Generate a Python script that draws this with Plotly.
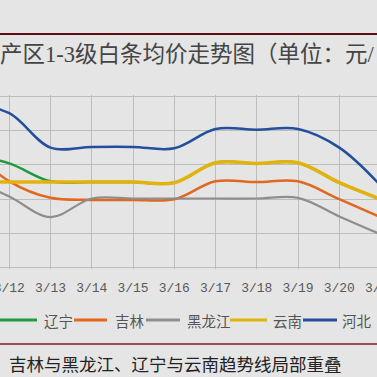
import plotly.graph_objects as go

# ---- data ----
dates = ["3/11", "3/12", "3/13", "3/14", "3/15", "3/16", "3/17", "3/18", "3/19", "3/20", "3/21"]
series_names = ["辽宁", "吉林", "黑龙江", "云南", "河北"]
liaoning = [16.65, 16.52, 16.26, 16.25, 16.25, 16.24, 16.53, 16.52, 16.53, 16.24, 16.00]
jilin = [16.75, 16.26, 16.02, 15.99, 15.99, 16.00, 16.26, 16.25, 16.26, 16.00, 15.74]
heilongjiang = [16.30, 16.04, 15.74, 16.01, 16.01, 16.01, 16.01, 16.01, 16.02, 15.75, 15.49]
yunnan = [16.25, 16.25, 16.25, 16.25, 16.25, 16.24, 16.53, 16.52, 16.53, 16.24, 16.00]
hebei = [17.40, 17.25, 16.75, 16.76, 16.76, 16.74, 17.02, 17.01, 17.02, 16.75, 16.20]
values = [liaoning, jilin, heilongjiang, yunnan, hebei]
title_text = "产区1-3级白条均价走势图（单位：元/"
note_text = "吉林与黑龙江、辽宁与云南趋势线局部重叠"

# ---- style ----
colors = ["#1e9a3c", "#e2671f", "#8e8e8e", "#e2b30c", "#234f9c"]
widths = [2.5, 2.5, 2.2, 3.6, 2.5]
W, H = 377, 377
T, B = 95, 108
PLOT_BOTTOM = H - B
PLOT_H = H - T - B
BG = "#e5e5e5"
TICK_FONT = dict(family="Liberation Mono", size=13, color="#595959")


def px_x(px):
    return px / W


def px_y(py):
    return (PLOT_BOTTOM - py) / PLOT_H


fig = go.Figure()
for name, vals, c, w in zip(series_names, values, colors, widths):
    fig.add_trace(go.Scatter(
        x=dates, y=vals, name=name, mode="lines",
        line=dict(color=c, width=w, shape="spline", smoothing=1.0),
        showlegend=False, hoverinfo="skip",
    ))

shapes = [
    dict(type="line", xref="paper", yref="paper", x0=0, x1=1, y0=px_y(34), y1=px_y(34),
         line=dict(color="#5c0d16", width=2)),
    dict(type="line", xref="paper", yref="paper", x0=0, x1=1, y0=px_y(344), y1=px_y(344),
         line=dict(color="#7d1a22", width=1.5)),
]
annotations = [
    dict(text=title_text, xref="paper", yref="paper", x=px_x(-2.5), y=px_y(54),
         xanchor="left", yanchor="middle", showarrow=False,
         font=dict(family="Liberation Serif, Noto Sans CJK SC", size=22.5, color="#444444")),
    dict(text=note_text, xref="paper", yref="paper", x=px_x(7), y=px_y(363.5),
         xanchor="left", yanchor="middle", showarrow=False,
         font=dict(family="Noto Sans CJK SC", size=17.5, color="#222222")),
    # last category label, only partly inside the cropped view
    dict(text=dates[-1], xref="paper", yref="paper", x=px_x(380.5), y=px_y(288),
         xanchor="center", yanchor="middle", showarrow=False, font=TICK_FONT),
]

# manual legend (single row, cut at the left like the source)
leg_line = [(-5, 37), (74, 107), (146, 180), (230, 267), (303, 337)]
leg_text = [42, 113, 185, 271, 340]
LEG_Y = 320
for name, c, (a, b), tx in zip(series_names, colors, leg_line, leg_text):
    shapes.append(dict(type="line", xref="paper", yref="paper", x0=px_x(a), x1=px_x(b),
                       y0=px_y(LEG_Y), y1=px_y(LEG_Y), line=dict(color=c, width=3)))
    annotations.append(dict(text=name, xref="paper", yref="paper", x=px_x(tx), y=px_y(LEG_Y),
                            xanchor="left", yanchor="middle", showarrow=False,
                            font=dict(family="Noto Sans CJK SC", size=14.5, color="#555555")))

fig.update_layout(
    width=W, height=H,
    margin=dict(l=0, r=0, t=T, b=B, pad=0, autoexpand=False),
    paper_bgcolor=BG, plot_bgcolor=BG,
    showlegend=False,
    shapes=shapes, annotations=annotations,
    xaxis=dict(type="category", range=[0.775, 9.914], showgrid=True, gridcolor="#bdbdbd",
               gridwidth=1, zeroline=False, showline=False, ticks="", ticklabelstandoff=9,
               tickfont=TICK_FONT),
    yaxis=dict(range=[14.985, 17.515], tick0=15, dtick=0.5, showgrid=True, gridcolor="#bdbdbd",
               gridwidth=1, zeroline=False, showline=False, showticklabels=False, ticks=""),
)

fig.write_html(
    "out.html",
    config={"displayModeBar": False},
    post_script="document.body.style.margin='0';document.body.style.overflow='hidden';",
)
